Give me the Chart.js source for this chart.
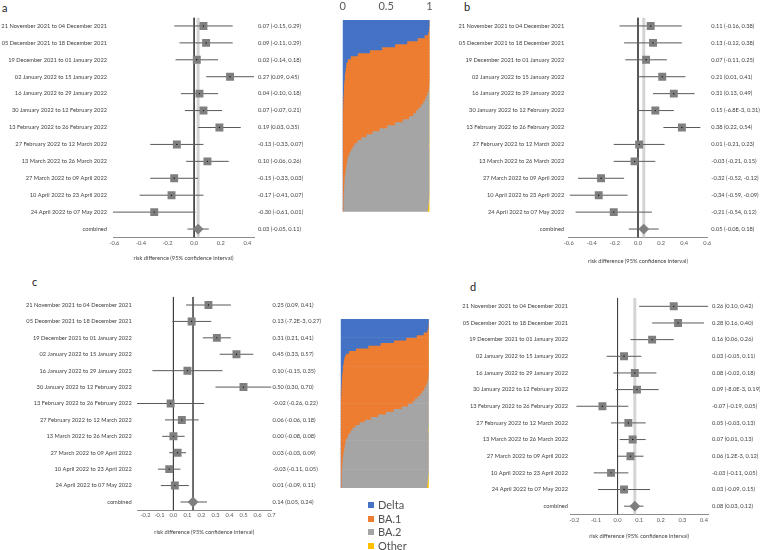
<!DOCTYPE html>
<html>
<head>
<meta charset="utf-8">
<script src="https://cdn.jsdelivr.net/npm/chart.js@4.4.1/dist/chart.umd.min.js"></script>
<style>
  body { margin: 0; background: #fff; width: 760px; height: 550px; position: relative; overflow: hidden; font-family: Lato, sans-serif; }
  canvas, .panel, #legend { position: absolute; }
  .panel { font-size: 11px; color: #222; }
  #legend { left: 368px; top: 498px; font-size: 11px; color: #505050; }
  #legend div { height: 13.5px; line-height: 13.5px; white-space: nowrap; }
  #legend span { display: inline-block; width: 6px; height: 6px; margin-right: 4px; vertical-align: 1px; }
</style>
</head>
<body>
<div class="panel" style="left:2px;top:1px">a</div>
<div class="panel" style="left:464px;top:0px">b</div>
<div class="panel" style="left:32px;top:275px">c</div>
<div class="panel" style="left:470px;top:280px">d</div>

<canvas id="forestA" width="330" height="275" style="left:0;top:0"></canvas>
<canvas id="forestB" width="325" height="275" style="left:435px;top:0"></canvas>
<canvas id="forestC" width="330" height="270" style="left:0;top:280px"></canvas>
<canvas id="forestD" width="325" height="270" style="left:435px;top:280px"></canvas>
<canvas id="variantsTop" width="110" height="215" style="left:330px;top:0"></canvas>
<canvas id="variantsBottom" width="110" height="205" style="left:330px;top:295px"></canvas>
<div id="legend"></div>

<script>
// periods shared by all four forest plots
const periods = [
  '21 November 2021 to 04 December 2021',
  '05 December 2021 to 18 December 2021',
  '19 December 2021 to 01 January 2022',
  '02 January 2022 to 15 January 2022',
  '16 January 2022 to 29 January 2022',
  '30 January 2022 to 12 February 2022',
  '13 February 2022 to 26 February 2022',
  '27 February 2022 to 12 March 2022',
  '13 March 2022 to 26 March 2022',
  '27 March 2022 to 09 April 2022',
  '10 April 2022 to 23 April 2022',
  '24 April 2022 to 07 May 2022',
  'combined'
];
const axisTitle = 'risk difference (95% confidence interval)';

// panel a
const estA = [0.07, 0.09, 0.02, 0.27, 0.04, 0.07, 0.19, -0.13, 0.10, -0.15, -0.17, -0.30, 0.03];
const loA  = [-0.15, -0.11, -0.14, 0.09, -0.10, -0.07, 0.03, -0.33, -0.06, -0.33, -0.41, -0.61, -0.05];
const hiA  = [0.29, 0.29, 0.18, 0.45, 0.18, 0.21, 0.35, 0.07, 0.26, 0.03, 0.07, 0.01, 0.11];
const ticksA = [-0.6, -0.4, -0.2, 0, 0.2, 0.4];

// panel b
const estB = [0.11, 0.13, 0.07, 0.21, 0.31, 0.15, 0.38, 0.01, -0.03, -0.32, -0.34, -0.21, 0.05];
const loB  = [-0.16, -0.12, -0.11, 0.01, 0.13, -0.0068, 0.22, -0.21, -0.21, -0.52, -0.59, -0.54, -0.08];
const hiB  = [0.38, 0.38, 0.25, 0.41, 0.49, 0.31, 0.54, 0.23, 0.15, -0.12, -0.09, 0.12, 0.18];
const ticksB = [-0.6, -0.4, -0.2, 0, 0.2, 0.4, 0.6];

// panel c
const estC = [0.25, 0.13, 0.31, 0.45, 0.10, 0.50, -0.02, 0.06, 0.00, 0.03, -0.03, 0.01, 0.14];
const loC  = [0.09, -0.0072, 0.21, 0.33, -0.15, 0.30, -0.26, -0.06, -0.08, -0.03, -0.11, -0.09, 0.05];
const hiC  = [0.41, 0.27, 0.41, 0.57, 0.35, 0.70, 0.22, 0.18, 0.08, 0.09, 0.05, 0.11, 0.24];
const ticksC = [-0.2, -0.1, 0, 0.1, 0.2, 0.3, 0.4, 0.5, 0.6, 0.7];

// panel d
const estD = [0.26, 0.28, 0.16, 0.03, 0.08, 0.09, -0.07, 0.05, 0.07, 0.06, -0.03, 0.03, 0.08];
const loD  = [0.10, 0.16, 0.06, -0.05, -0.02, -0.008, -0.19, -0.03, 0.01, 0.0012, -0.11, -0.09, 0.03];
const hiD  = [0.42, 0.40, 0.26, 0.11, 0.18, 0.19, 0.05, 0.13, 0.13, 0.12, 0.05, 0.15, 0.12];
const ticksD = [-0.2, -0.1, 0, 0.1, 0.2, 0.3, 0.4];

// variant shares over time (top row = start of period)
const variants = ['Delta', 'BA.1', 'BA.2', 'Other'];
const variantColors = ['#4472c4', '#ed7d31', '#a5a5a5', '#ffc000'];
const shareDelta = [1, 1, 0.995, 0.99, 0.98, 0.94, 0.86, 0.74, 0.60, 0.45,
  0.31, 0.17, 0.09, 0.055, 0.04, 0.035, 0.03, 0.025, 0.02, 0.02,
  0.015, 0.012, 0.01, 0.01, 0.008, 0.005, 0.004, 0.003, 0.002, 0.002,
  0, 0, 0, 0, 0, 0, 0, 0, 0, 0, 0, 0, 0, 0, 0, 0, 0, 0, 0, 0,
  0, 0, 0, 0, 0, 0, 0, 0, 0, 0, 0, 0, 0, 0];
const shareBA1 = [0, 0, 0.005, 0.01, 0.02, 0.06, 0.14, 0.26, 0.40, 0.55,
  0.69, 0.83, 0.91, 0.945, 0.96, 0.965, 0.97, 0.975, 0.98, 0.98,
  0.983, 0.983, 0.98, 0.975, 0.967, 0.955, 0.941, 0.922, 0.898, 0.868,
  0.84, 0.81, 0.76, 0.69, 0.60, 0.51, 0.42, 0.34, 0.27, 0.21,
  0.165, 0.13, 0.11, 0.09, 0.075, 0.06, 0.05, 0.045, 0.04, 0.035,
  0.03, 0.025, 0.02, 0.018, 0.015, 0.013, 0.012, 0.01, 0.008, 0.007,
  0.006, 0.005, 0.005, 0.004];
const shareBA2 = [0, 0, 0, 0, 0, 0, 0, 0, 0, 0, 0, 0, 0, 0, 0, 0, 0, 0, 0, 0,
  0.002, 0.005, 0.01, 0.015, 0.025, 0.04, 0.055, 0.075, 0.10, 0.13,
  0.16, 0.19, 0.24, 0.31, 0.40, 0.49, 0.58, 0.66, 0.73, 0.79,
  0.835, 0.865, 0.885, 0.91, 0.925, 0.94, 0.95, 0.955, 0.96, 0.965,
  0.97, 0.975, 0.98, 0.982, 0.985, 0.987, 0.988, 0.99, 0.989, 0.987,
  0.984, 0.981, 0.977, 0.974];
const shareOther = [0, 0, 0, 0, 0, 0, 0, 0, 0, 0, 0, 0, 0, 0, 0, 0, 0, 0, 0, 0,
  0, 0, 0, 0, 0, 0, 0, 0, 0, 0, 0, 0, 0, 0, 0, 0, 0, 0, 0, 0,
  0, 0.005, 0.005, 0, 0, 0, 0, 0, 0, 0, 0, 0, 0, 0, 0, 0, 0, 0, 0.003, 0.006,
  0.01, 0.014, 0.018, 0.022];
const shareTicks = [0, 0.5, 1];

Chart.defaults.font.family = 'Lato, sans-serif';
const small = 5.7;

function fmt(v) {
  if (v !== 0 && Math.abs(v) < 0.01) return v.toExponential(1).toUpperCase();
  return v.toFixed(2);
}

function forest(id, est, lo, hi, ticks, g) {
  const n = periods.length - 1;
  const rows = periods.map((p, i) => i);
  const ciText = rows.map(i => fmt(est[i]) + ' (' + fmt(lo[i]) + ', ' + fmt(hi[i]) + ')');
  const ciLines = rows.map(i => ({
    type: 'line',
    data: [{x: lo[i], y: i}, {x: hi[i], y: i}],
    borderColor: '#595959', borderWidth: 1, pointRadius: 0, order: 2
  }));
  new Chart(document.getElementById(id), {
    type: 'scatter',
    data: {
      datasets: [
        { data: est.slice(0, n).map((v, i) => ({x: v, y: i})), pointStyle: 'circle', pointRadius: 0.7,
          backgroundColor: '#111', borderWidth: 0, order: 0 },
        { data: est.slice(0, n).map((v, i) => ({x: v, y: i})), pointStyle: 'rect', pointRadius: 5.6,
          backgroundColor: '#7f7f7f', borderWidth: 0, order: 1 },
        { data: [{x: est[n], y: n}], pointStyle: 'rectRot', pointRadius: 5.4,
          backgroundColor: '#7f7f7f', borderWidth: 0, order: 1 },
        ...ciLines,
        { type: 'line', data: [{x: 0, y: -0.5}, {x: 0, y: n + 0.5}],
          borderColor: '#404040', borderWidth: 1, pointRadius: 0, order: 3 },
        { type: 'line', data: [{x: est[n], y: -0.5}, {x: est[n], y: n + 0.5}],
          borderColor: g.bandColor, borderWidth: g.bandWidth, pointRadius: 0, order: 4 }
      ]
    },
    options: {
      responsive: false,
      animation: false,
      layout: { padding: { top: g.top, left: 0, right: 0, bottom: 0 } },
      plugins: { legend: { display: false }, tooltip: { enabled: false } },
      scales: {
        x: {
          type: 'linear', min: g.min, max: g.max,
          grid: { display: false, drawTicks: false },
          border: { display: true, color: '#8c8c8c' },
          afterBuildTicks: s => { s.ticks = ticks.map(v => ({value: v})); },
          afterFit: s => { s.height = g.xh; },
          ticks: { autoSkip: false, maxRotation: 0, padding: 2, font: {size: small}, color: '#595959',
                   callback: v => Number(v).toFixed(1) },
          title: { display: true, text: axisTitle, font: {size: small}, color: '#404040',
                   padding: {top: 0, bottom: g.tb} }
        },
        y: {
          type: 'linear', reverse: true, min: -0.5, max: n + 0.5, position: 'left',
          grid: { display: false, drawTicks: false }, border: { display: false },
          afterBuildTicks: s => { s.ticks = rows.map(v => ({value: v})); },
          afterFit: s => { s.width = g.left; },
          ticks: { autoSkip: false, padding: g.lp, font: {size: small}, color: '#404040',
                   callback: (v, i) => periods[i] }
        },
        y2: {
          type: 'linear', reverse: true, min: -0.5, max: n + 0.5, position: 'right',
          grid: { display: false, drawTicks: false }, border: { display: false },
          afterBuildTicks: s => { s.ticks = rows.map(v => ({value: v})); },
          afterFit: s => { s.width = g.right; },
          ticks: { autoSkip: false, padding: g.rp, font: {size: small}, color: '#404040',
                   callback: (v, i) => ciText[i] }
        }
      }
    }
  });
}

function variantChart(id, pad, showTicks) {
  const shares = [shareDelta, shareBA1, shareBA2, shareOther];
  new Chart(document.getElementById(id), {
    type: 'bar',
    data: {
      labels: shareDelta.map((v, i) => String(i)),
      datasets: variants.map((name, k) => ({
        label: name, data: shares[k], backgroundColor: variantColors[k],
        borderWidth: 0, barPercentage: 1, categoryPercentage: 1
      }))
    },
    options: {
      indexAxis: 'y',
      responsive: false,
      animation: false,
      layout: { padding: pad },
      plugins: { legend: { display: false }, tooltip: { enabled: false } },
      scales: {
        x: {
          stacked: true, min: 0, max: 1, position: 'top', display: showTicks,
          grid: { display: false, drawTicks: false }, border: { display: false },
          afterBuildTicks: s => { s.ticks = shareTicks.map(v => ({value: v})); },
          afterFit: s => { s.height = 20; },
          ticks: { padding: 7, font: {size: 11}, color: '#595959', maxRotation: 0,
                   callback: v => String(v) }
        },
        y: { stacked: true, display: false }
      }
    }
  });
}

function drawAll() {
  forest('forestA', estA, loA, hiA, ticksA,
    { min: -0.61, max: 0.45, top: 17.5, xh: 37.5, left: 113, right: 76, lp: 6, rp: 4, tb: 13.4,
      bandColor: '#d4d4d4', bandWidth: 3 });
  forest('forestB', estB, loB, hiB, ticksB,
    { min: -0.6, max: 0.6, top: 17.5, xh: 37.5, left: 133.7, right: 52.7, lp: 4.5, rp: 4, tb: 10.7,
      bandColor: '#d4d4d4', bandWidth: 3 });
  forest('forestC', estC, loC, hiC, ticksC,
    { min: -0.26, max: 0.7, top: 16.8, xh: 39.8, left: 137, right: 58.5, lp: 5.3, rp: 1, tb: 14.1,
      bandColor: '#595959', bandWidth: 1 });
  forest('forestD', estD, loD, hiD, ticksD,
    { min: -0.22, max: 0.42, top: 18, xh: 35.5, left: 135, right: 51.7, lp: 2, rp: 3.7, tb: 10.4,
      bandColor: '#d4d4d4', bandWidth: 3 });

  variantChart('variantsTop', { top: 0, left: 12.7, right: 10.5, bottom: 3.3 }, true);
  variantChart('variantsBottom', { top: 4, left: 10.7, right: 11.3, bottom: 12 }, false);
}

const legend = document.getElementById('legend');
variants.forEach((name, k) => {
  const row = document.createElement('div');
  const box = document.createElement('span');
  box.style.background = variantColors[k];
  row.appendChild(box);
  row.appendChild(document.createTextNode(name));
  legend.appendChild(row);
});

// make sure Lato is ready before the canvases measure their text
document.fonts.load('6px Lato').then(drawAll, drawAll);
</script>
</body>
</html>
